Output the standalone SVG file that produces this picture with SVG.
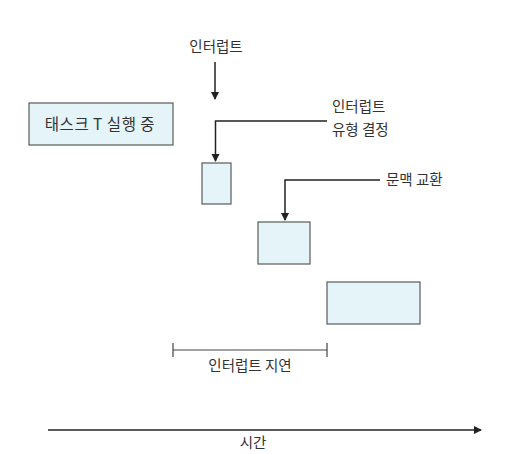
<svg xmlns="http://www.w3.org/2000/svg" width="524" height="454" viewBox="0 0 524 454">
<defs>
<style>
.box{fill:#e4f4f8;stroke:#5a5a5a;stroke-width:1.2}
.ln{fill:none;stroke:#222;stroke-width:1.5}
.t{font-family:"Noto Sans CJK KR","Noto Sans",sans-serif;font-size:14.5px;fill:#333}
</style>
<marker id="ah" markerWidth="10" markerHeight="10" refX="7" refY="4" orient="auto" markerUnits="userSpaceOnUse">
<path d="M0,0 L8,4 L0,8 Z" fill="#222"/>
</marker>
</defs>
<rect width="524" height="454" fill="#fff"/>
<g id="task">
<rect class="box" x="29" y="103" width="144" height="42"/>
<text class="t" x="100" y="130" text-anchor="middle" style="font-size:15.5px;letter-spacing:0.5px">태스크 T 실행 중</text>
</g>
<g id="irq-label"><text class="t" x="216" y="52" text-anchor="middle">인터럽트</text></g>
<g id="type-label">
<text class="t" x="332" y="112">인터럽트</text>
<text class="t" x="332" y="135">유형 결정</text>
</g>
<g id="ctx-label"><text class="t" x="386" y="185">문맥 교환</text></g>
<g id="box1"><rect class="box" x="202" y="163" width="29" height="41"/></g>
<g id="box2"><rect class="box" x="258" y="222" width="52" height="42"/></g>
<g id="box3"><rect class="box" x="327" y="282" width="93" height="42"/></g>
<g id="delay">
<path d="M173,350 H327 M173,343 V357 M327,343 V357" fill="none" stroke="#444" stroke-width="1.2"/>
<text class="t" x="250" y="371" text-anchor="middle">인터럽트 지연</text>
</g>
<g id="time">
<text class="t" x="253" y="448" text-anchor="middle">시간</text>
</g>
<g id="connectors">
<path class="ln" d="M215,62 V99" marker-end="url(#ah)"/>
<path class="ln" d="M327,121 H215.5 V161" marker-end="url(#ah)"/>
<path class="ln" d="M380,180 H285 V220" marker-end="url(#ah)"/>
<path class="ln" d="M48,430 H481" marker-end="url(#ah)"/>
</g>
</svg>
